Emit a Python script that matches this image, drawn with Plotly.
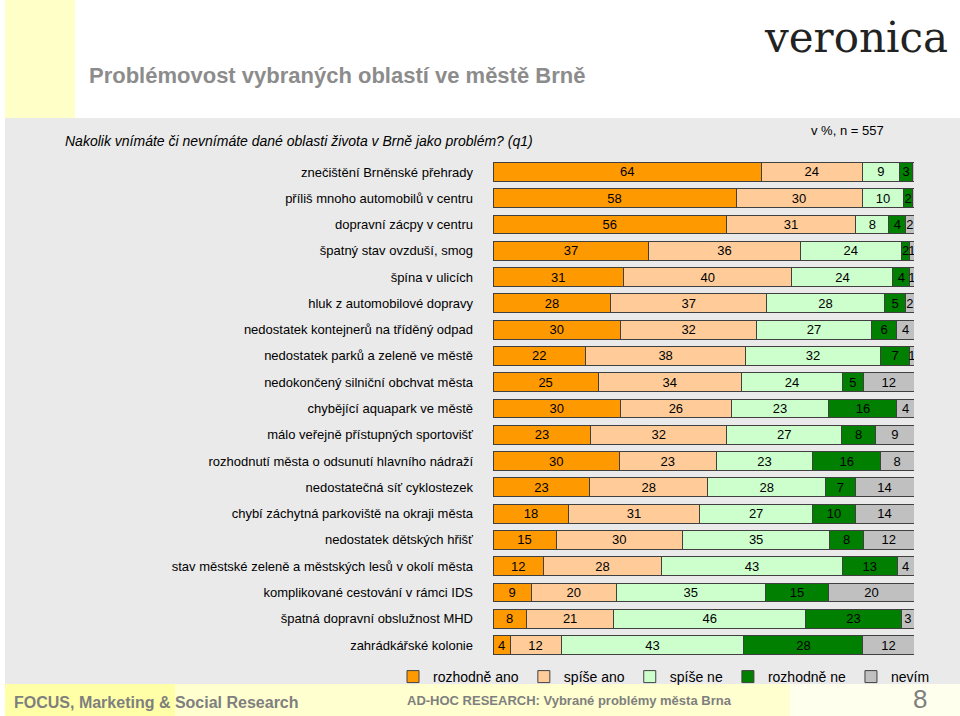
import plotly.graph_objects as go

categories = [
    "znečištění Brněnské přehrady",
    "příliš mnoho automobilů v centru",
    "dopravní zácpy v centru",
    "špatný stav ovzduší, smog",
    "špína v ulicích",
    "hluk z automobilové dopravy",
    "nedostatek kontejnerů na tříděný odpad",
    "nedostatek parků a zeleně ve městě",
    "nedokončený silniční obchvat města",
    "chybějící aquapark ve městě",
    "málo veřejně přístupných sportovišť",
    "rozhodnutí města o odsunutí hlavního nádraží",
    "nedostatečná síť cyklostezek",
    "chybí záchytná parkoviště na okraji města",
    "nedostatek dětských hřišť",
    "stav městské zeleně a městských lesů v okolí města",
    "komplikované cestování v rámci IDS",
    "špatná dopravní obslužnost MHD",
    "zahrádkářské kolonie",
]

rozhodne_ano = [64, 58, 56, 37, 31, 28, 30, 22, 25, 30, 23, 30, 23, 18, 15, 12, 9, 8, 4]
spise_ano = [24, 30, 31, 36, 40, 37, 32, 38, 34, 26, 32, 23, 28, 31, 30, 28, 20, 21, 12]
spise_ne = [9, 10, 8, 24, 24, 28, 27, 32, 24, 23, 27, 23, 28, 27, 35, 43, 35, 46, 43]
rozhodne_ne = [3, 2, 4, 2, 4, 5, 6, 7, 5, 16, 8, 16, 7, 10, 8, 13, 15, 23, 28]
nevim = [0.4, 0.4, 2, 1, 1, 2, 4, 1, 12, 4, 9, 8, 14, 14, 12, 4, 20, 3, 12]

series_names = ["rozhodně ano", "spíše ano", "spíše ne", "rozhodně ne", "nevím"]
series_values = [rozhodne_ano, spise_ano, spise_ne, rozhodne_ne, nevim]
series_colors = ["#FF9900", "#FFCC99", "#CCFFCC", "#007F00", "#C0C0C0"]

FONT = "Liberation Sans, Arial, sans-serif"

fig = go.Figure()
for name, vals, col in zip(series_names, series_values, series_colors):
    fig.add_trace(go.Bar(
        y=categories, x=vals, name=name, orientation="h",
        marker=dict(color=col, line=dict(color="#404040", width=1)),
        text=[str(round(v)) if v >= 1 else "" for v in vals],
        textposition="inside", insidetextanchor="middle", textangle=0,
        constraintext="none",
        textfont=dict(family=FONT, size=13, color="#000000"),
        hoverinfo="skip",
    ))


def px(x):
    return x / 960


def py(y):
    return 1 - y / 716


shapes = [
    dict(type="rect", xref="paper", yref="paper", x0=px(5), x1=px(75),
         y0=py(118), y1=1, fillcolor="#FFFFC8", line_width=0, layer="below"),
    dict(type="rect", xref="paper", yref="paper", x0=px(5), x1=1,
         y0=py(684), y1=py(118), fillcolor="#EAEAEA", line_width=0, layer="below"),
    dict(type="rect", xref="paper", yref="paper", x0=px(5), x1=px(175),
         y0=0, y1=py(684), fillcolor="#FFFFA8", line_width=0, layer="below"),
    dict(type="rect", xref="paper", yref="paper", x0=px(175), x1=px(790),
         y0=0, y1=py(684), fillcolor="#FFFFD0", line_width=0, layer="below"),
    dict(type="rect", xref="paper", yref="paper", x0=px(790), x1=1,
         y0=0, y1=py(684), fillcolor="#FFFFEE", line_width=0, layer="below"),
]

ann = dict(xref="paper", yref="paper", showarrow=False)
annotations = [
    dict(text="<b>Problémovost vybraných oblastí ve městě Brně</b>", x=px(87), y=py(75),
         xanchor="left", yanchor="middle",
         font=dict(family=FONT, size=22, color="#8C8C8C"), **ann),
    dict(text="veronica", x=px(950), y=py(37), xanchor="right", yanchor="middle",
         font=dict(family="DejaVu Serif, serif", size=42, color="#222222"), **ann),
    dict(text="<i>Nakolik vnímáte či nevnímáte dané oblasti života v Brně jako problém? (q1)</i>",
         x=px(63), y=py(141), xanchor="left", yanchor="middle",
         font=dict(family=FONT, size=14, color="#000000"), **ann),
    dict(text="v %, n = 557", x=px(886), y=py(131), xanchor="right", yanchor="middle",
         font=dict(family=FONT, size=13, color="#000000"), **ann),
    dict(text="<b>FOCUS, Marketing &amp; Social Research</b>", x=px(12), y=py(702),
         xanchor="left", yanchor="middle",
         font=dict(family=FONT, size=16, color="#7F7F7F"), **ann),
    dict(text="<b>AD-HOC RESEARCH: Vybrané problémy města Brna</b>", x=px(405), y=py(700),
         xanchor="left", yanchor="middle",
         font=dict(family=FONT, size=13, color="#7F7F7F"), **ann),
    dict(text="8", x=px(920), y=py(699), xanchor="center", yanchor="middle",
         font=dict(family=FONT, size=26, color="#7F7F7F"), **ann),
]

fig.update_layout(
    width=960, height=716,
    margin=dict(l=0, r=0, t=0, b=0),
    paper_bgcolor="#FFFFFF", plot_bgcolor="rgba(0,0,0,0)",
    barmode="stack", barnorm="percent", bargap=0.28,
    font=dict(family=FONT, size=13, color="#000000"),
    xaxis=dict(domain=[px(493), px(914)], range=[0, 100], visible=False, fixedrange=True),
    yaxis=dict(domain=[py(658.2), py(158.8)], autorange="reversed",
               showgrid=False, zeroline=False, showline=False, ticks="", fixedrange=True,
               ticklabelstandoff=19, tickfont=dict(family=FONT, size=13, color="#000000")),
    legend=dict(orientation="h", x=px(393), y=py(661), xanchor="left", yanchor="top",
                bgcolor="rgba(0,0,0,0)", font=dict(family=FONT, size=14, color="#000000"),
                itemwidth=30, tracegroupgap=0, itemclick=False, traceorder="normal"),
    shapes=shapes, annotations=annotations,
    showlegend=True,
)

fig.write_html("out.html", config={"displayModeBar": False},
               post_script="document.body.style.margin='0';document.body.style.overflow='hidden';")
